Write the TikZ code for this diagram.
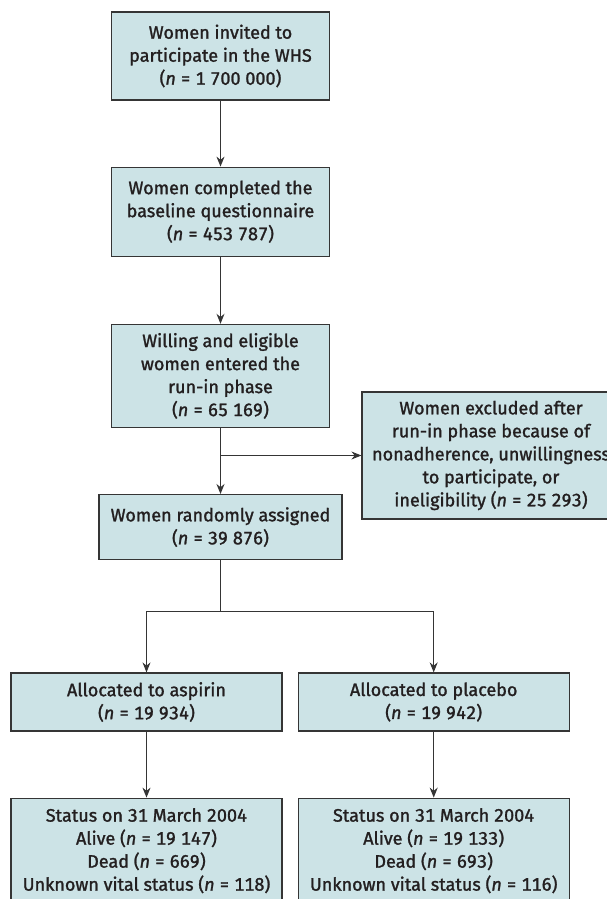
\documentclass[tikz,border=0pt]{standalone}
\usepackage{fontspec}
\setmainfont{Fira Sans}[FakeBold=1.4, Numbers={Lining,Monospaced}]
\usepackage{xcolor}
\usepackage{tikz}
\usetikzlibrary{shapes,arrows,arrows.meta,positioning}
\definecolor{boxfill}{HTML}{CCE3E6}
\definecolor{boxline}{HTML}{353535}
\definecolor{boxtext}{HTML}{231F20}
\tikzstyle{arrow} = [line width=1.2pt,draw=boxline,-{Stealth[length=10pt,width=8pt]}]
\tikzstyle{stage} = [draw=boxline, fill=boxfill, line width=1.2pt, text=boxtext, align=center, font=\fontsize{18}{23}\selectfont]

\begin{document}
\begin{tikzpicture}[x=1pt,y=1pt]
        \useasboundingbox (0,0) rectangle (607,-899);
            % Define nodes
        \node[stage,
        rectangle,
        minimum width=218pt,
        minimum height=88pt] (invited) at (220.5,-56) {Women invited to\\participate in the WHS\\(\textit{n} = 1 700 000)};

        \node[stage,
        rectangle,
        below=66pt of invited,
        minimum width=218pt,
        minimum height=89pt] (baseline) {Women completed the\\baseline questionnaire\\(\textit{n} = 453 787)};

        \node[stage,
        rectangle,
        below=67pt of baseline,
        minimum width=218pt,
        minimum height=103pt] (runin) {Willing and eligible\\women entered the\\run-in phase\\(\textit{n} = 65 169)};

        \node[stage,
        rectangle,
        below=66pt of runin,
        minimum width=243pt,
        minimum height=65pt] (random) {Women randomly assigned\\(\textit{n} = 39 876)};

        \node[stage,
        rectangle,
        minimum width=258pt,
        minimum height=127pt] (excluded) at (491,-455.5) {Women excluded after\\run-in phase because of\\nonadherence, unwillingness\\to participate, or\\ineligibility (\textit{n} = 25 293)};

        \node[stage,
        rectangle,
        minimum width=271pt,
        minimum height=58pt] (aspirin) at (146.5,-702) {Allocated to aspirin\\(\textit{n} = 19 934)};

        \node[stage,
        rectangle,
        right=15pt of aspirin,
        minimum width=271pt,
        minimum height=58pt] (placebo) {Allocated to placebo\\(\textit{n} = 19 942)};

        \node[stage,
        rectangle,
        below=66pt of aspirin,
        minimum width=271pt,
        minimum height=105pt] (statusA) {Status on 31 March 2004\\Alive (\textit{n} = 19 147)\\Dead (\textit{n} = 669)\\Unknown vital status (\textit{n} = 118)};

        \node[stage,
        rectangle,
        below=66pt of placebo,
        minimum width=271pt,
        minimum height=105pt] (statusP) {Status on 31 March 2004\\Alive (\textit{n} = 19 133)\\Dead (\textit{n} = 693)\\Unknown vital status (\textit{n} = 116)};

        \coordinate[below=51pt of random.south] (fork);

        \draw [arrow] (invited) -- (baseline);
        \draw [arrow] (baseline) -- (runin);
        \draw [arrow] (runin) -- (random);
        \draw [arrow] (runin.south |- excluded.west) -- (excluded.west);
        \draw [line width=1.2pt,draw=boxline] (random) -- (fork);
        \draw [arrow] (fork) -| (aspirin);
        \draw [arrow] (fork) -| (placebo);
        \draw [arrow] (aspirin) -- (statusA);
        \draw [arrow] (placebo) -- (statusP);

        \end{tikzpicture}
\end{document}
